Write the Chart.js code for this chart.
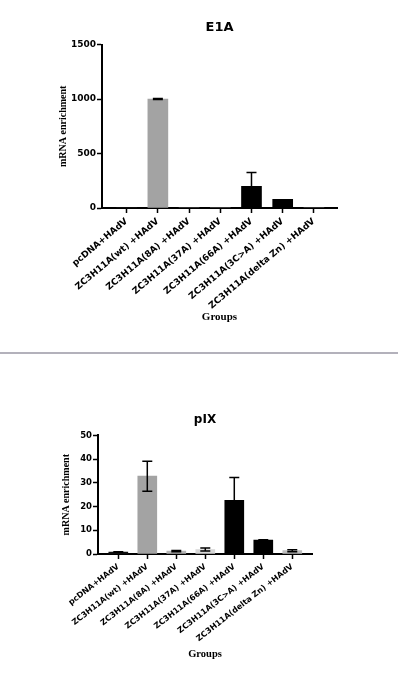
<!DOCTYPE html>
<html>
<head>
<meta charset="utf-8">
<script src="https://cdn.jsdelivr.net/npm/chart.js@4"></script>
<style>
  body { margin: 0; background: #fff; width: 399px; height: 700px; overflow: hidden; position: relative; }
  #c1 { position: absolute; left: 0; top: 0; }
  #c2 { position: absolute; left: 0; top: 360px; }
  #divider { position: absolute; left: 0; top: 352px; width: 398px; height: 2px; background: #b3b1bb; }
</style>
</head>
<body>
<canvas id="c1" width="399" height="340"></canvas>
<div id="divider"></div>
<canvas id="c2" width="399" height="340"></canvas>
<script>
// groups on the x axis (same for both panels)
const groups = [
  "pcDNA+HAdV",
  "ZC3H11A(wt) +HAdV",
  "ZC3H11A(8A) +HAdV",
  "ZC3H11A(37A) +HAdV",
  "ZC3H11A(66A) +HAdV",
  "ZC3H11A(3C>A) +HAdV",
  "ZC3H11A(delta Zn) +HAdV",
];
const barColors = ["#111111", "#a3a3a3", "#b5b5b5", "#d6d6d6", "#000000", "#000000", "#bdbdbd"];

// E1A panel
const e1aValues = [1, 1000, 0, 0, 200, 80, 0];
const e1aErrors = [0, 5, 0, 0, 125, 0, 0];
const e1aTicks = [0, 500, 1000, 1500];

// pIX panel
const pixValues = [0.8, 32.8, 1.2, 1.9, 22.6, 5.9, 1.4];
const pixErrors = [0.1, 6.3, 0.3, 0.6, 9.7, 0.1, 0.4];
const pixTicks = [0, 10, 20, 30, 40, 50];

// mean +/- SD whiskers, drawn through the chart scales
const errorBars = {
  id: "errorBars",
  afterDatasetsDraw(chart, args, opts) {
    const ctx = chart.ctx;
    const xs = chart.scales.x;
    const ys = chart.scales.y;
    ctx.save();
    ctx.strokeStyle = "#000";
    ctx.lineWidth = 1.5;
    opts.errors.forEach((e, i) => {
      if (!e) return;
      const v = opts.values[i];
      const px = xs.getPixelForValue(i);
      const top = ys.getPixelForValue(v + e);
      const bot = ys.getPixelForValue(Math.max(v - e, 0));
      ctx.beginPath();
      ctx.moveTo(px, bot);
      ctx.lineTo(px, top);
      ctx.moveTo(px - 5, top);
      ctx.lineTo(px + 5, top);
      ctx.moveTo(px - 5, bot);
      ctx.lineTo(px + 5, bot);
      ctx.stroke();
    });
    ctx.restore();
  },
};

function makeChart(id, title, values, errors, ticks, g) {
  return new Chart(document.getElementById(id), {
    type: "bar",
    data: {
      datasets: [
        {
          data: values.map((v, i) => ({ x: i, y: v })),
          backgroundColor: barColors,
          borderWidth: 0,
          barThickness: g.bar,
        },
      ],
    },
    options: {
      responsive: false,
      animation: false,
      layout: { padding: { left: 0, right: g.right, top: 0, bottom: g.bottom } },
      plugins: {
        legend: { display: false },
        tooltip: { enabled: false },
        title: {
          display: true,
          text: title,
          fullSize: false,
          color: "#000",
          font: { family: "DejaVu Sans", weight: "bold", size: g.titleSize, lineHeight: 1.2 },
          padding: { top: g.tTop, bottom: g.tBottom },
        },
        errorBars: { values: values, errors: errors },
      },
      scales: {
        x: {
          type: "linear",
          offset: false,
          min: g.xmin,
          max: g.xmax,
          afterFit(s) { s.height = g.xh; },
          afterBuildTicks(s) { s.ticks = groups.map((_, i) => ({ value: i })); },
          border: { display: true, color: "#000", width: 2 },
          grid: {
            offset: false,
            drawOnChartArea: false,
            drawTicks: true,
            tickLength: 5,
            tickColor: "#000",
            tickWidth: 1.5,
          },
          ticks: {
            autoSkip: false,
            maxRotation: g.rot,
            minRotation: g.rot,
            padding: g.xPad,
            color: "#000",
            font: { family: "DejaVu Sans", weight: "bold", size: g.xFont },
            callback: (v) => groups[v],
          },
          title: {
            display: true,
            text: "Groups",
            color: "#000",
            font: { family: "Liberation Serif", weight: "bold", size: g.xTitleSize, lineHeight: 1.2 },
            padding: { top: 0, bottom: 0 },
          },
        },
        y: {
          min: 0,
          max: ticks[ticks.length - 1],
          afterFit(s) { s.width = g.left; },
          afterBuildTicks(s) { s.ticks = ticks.map((v) => ({ value: v })); },
          border: { display: true, color: "#000", width: 2 },
          grid: { drawOnChartArea: false, drawTicks: true, tickLength: 5, tickColor: "#000", tickWidth: 1.5 },
          ticks: {
            padding: 1,
            color: "#000",
            font: { family: "DejaVu Sans", weight: "bold", size: g.yFont },
            callback: (v) => String(v),
          },
          title: {
            display: true,
            text: "mRNA enrichment",
            color: "#000",
            font: { family: "Liberation Serif", weight: "bold", size: 10, lineHeight: 1.2 },
            padding: { top: g.yTitle, bottom: 0 },
          },
        },
      },
    },
    plugins: [errorBars],
  });
}

makeChart("c1", "E1A", e1aValues, e1aErrors, e1aTicks, {
  left: 102, right: 62, bottom: 16, xh: 116, tTop: 20, tBottom: 9,
  yTitle: 57, xmin: -0.79, xmax: 6.74, bar: 20,
  titleSize: 13, xFont: 9, yFont: 9, xPad: 3, xTitleSize: 11, rot: 40,
});

makeChart("c2", "pIX", pixValues, pixErrors, pixTicks, {
  left: 98, right: 87, bottom: 39, xh: 107, tTop: 53, tBottom: 8,
  yTitle: 60, xmin: -0.7, xmax: 6.68, bar: 19,
  titleSize: 12, xFont: 8, yFont: 8.5, xPad: 3, xTitleSize: 10.5, rot: 38,
});
</script>
</body>
</html>
